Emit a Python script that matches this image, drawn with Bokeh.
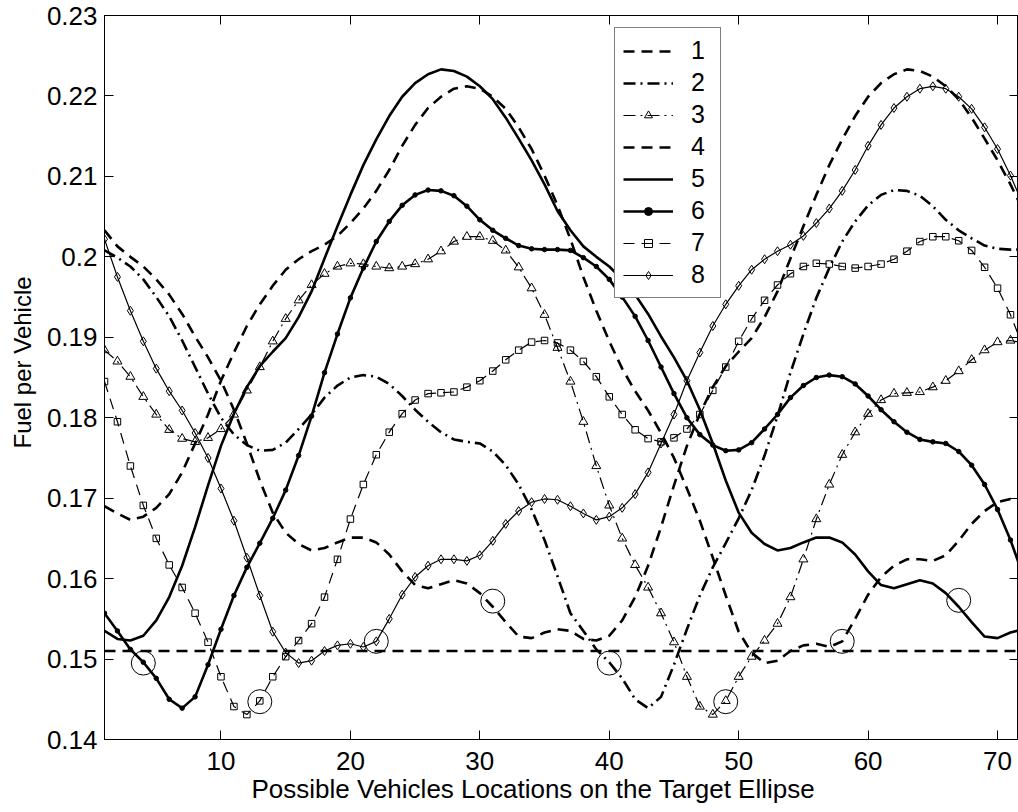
from bokeh.plotting import figure
from bokeh.models import FixedTicker, LinearAxis, Range1d, Legend, LegendItem, Span, Title
from bokeh.embed import file_html
from bokeh.resources import INLINE

# ---------------- data ----------------
x_positions = list(range(1, 73))

s1 = [0.2033, 0.2013, 0.2000, 0.1988, 0.1972, 0.1953, 0.1929, 0.1901, 0.1875, 0.1846, 0.1810, 0.1768,
      0.1722, 0.1682, 0.1657, 0.1643, 0.1635, 0.1638, 0.1645, 0.1651, 0.1651, 0.1645, 0.1630, 0.1609,
      0.1592, 0.1588, 0.1593, 0.1598, 0.1594, 0.1582, 0.1565, 0.1546, 0.1528, 0.1526, 0.1533, 0.1537,
      0.1535, 0.1525, 0.1523, 0.1529, 0.1548, 0.1577, 0.1616, 0.1664, 0.1716, 0.1765, 0.1805, 0.1838,
      0.1864, 0.1882, 0.1899, 0.1925, 0.1957, 0.1998, 0.2038, 0.2077, 0.2114, 0.2146, 0.2175, 0.2199,
      0.2216, 0.2227, 0.2233, 0.2231, 0.2224, 0.2212, 0.2196, 0.2173, 0.2147, 0.2120, 0.2090, 0.2057]

s2 = [0.2008, 0.1999, 0.1988, 0.1972, 0.1950, 0.1926, 0.1896, 0.1863, 0.1830, 0.1800, 0.1779, 0.1766,
      0.1759, 0.1760, 0.1769, 0.1786, 0.1804, 0.1825, 0.1840, 0.1850, 0.1853, 0.1851, 0.1842, 0.1827,
      0.1810, 0.1795, 0.1782, 0.1773, 0.1770, 0.1768, 0.1758, 0.1741, 0.1717, 0.1686, 0.1648, 0.1603,
      0.1557, 0.1535, 0.1512, 0.1496, 0.1476, 0.1450, 0.1439, 0.1453, 0.1493, 0.1537, 0.1579, 0.1614,
      0.1644, 0.1675, 0.1710, 0.1753, 0.1802, 0.1856, 0.1904, 0.1949, 0.1986, 0.2019, 0.2044, 0.2064,
      0.2077, 0.2083, 0.2082, 0.2076, 0.2063, 0.2046, 0.2033, 0.2023, 0.2014, 0.2010, 0.2009, 0.2009]

s3 = [0.1884, 0.1870, 0.1851, 0.1826, 0.1804, 0.1785, 0.1774, 0.1770, 0.1775, 0.1786, 0.1804, 0.1834,
      0.1863, 0.1895, 0.1923, 0.1946, 0.1965, 0.1979, 0.1988, 0.1992, 0.1991, 0.1988, 0.1986, 0.1988,
      0.1991, 0.1997, 0.2007, 0.2019, 0.2025, 0.2025, 0.2020, 0.2008, 0.1987, 0.1961, 0.1928, 0.1887,
      0.1845, 0.1795, 0.1740, 0.1691, 0.1650, 0.1617, 0.1589, 0.1557, 0.1521, 0.1478, 0.1441, 0.1431,
      0.1448, 0.1478, 0.1503, 0.1523, 0.1544, 0.1577, 0.1624, 0.1674, 0.1717, 0.1754, 0.1782, 0.1805,
      0.1822, 0.1830, 0.1831, 0.1832, 0.1838, 0.1846, 0.1858, 0.1872, 0.1884, 0.1894, 0.1896, 0.1893]

s4 = [0.1690, 0.1681, 0.1673, 0.1677, 0.1688, 0.1705, 0.1732, 0.1768, 0.1804, 0.1846, 0.1881, 0.1914,
      0.1941, 0.1964, 0.1984, 0.1997, 0.2007, 0.2015, 0.2026, 0.2042, 0.2060, 0.2082, 0.2108, 0.2138,
      0.2164, 0.2185, 0.2199, 0.2209, 0.2212, 0.2209, 0.2199, 0.2184, 0.2161, 0.2134, 0.2101, 0.2064,
      0.2022, 0.1975, 0.1933, 0.1895, 0.1861, 0.1833, 0.1809, 0.1781, 0.1750, 0.1712, 0.1672, 0.1626,
      0.1579, 0.1534, 0.1508, 0.1495, 0.1498, 0.1510, 0.1517, 0.1519, 0.1515, 0.1522, 0.1550, 0.1580,
      0.1602, 0.1616, 0.1624, 0.1624, 0.1622, 0.1629, 0.1647, 0.1668, 0.1684, 0.1695, 0.1699, 0.1698]

s5 = [0.1535, 0.1525, 0.1523, 0.1529, 0.1548, 0.1577, 0.1616, 0.1664, 0.1716, 0.1765, 0.1805, 0.1838,
      0.1864, 0.1882, 0.1899, 0.1925, 0.1957, 0.1998, 0.2038, 0.2077, 0.2114, 0.2146, 0.2175, 0.2199,
      0.2216, 0.2227, 0.2233, 0.2231, 0.2224, 0.2212, 0.2196, 0.2173, 0.2147, 0.2120, 0.2090, 0.2057,
      0.2033, 0.2013, 0.2000, 0.1988, 0.1972, 0.1953, 0.1929, 0.1901, 0.1875, 0.1846, 0.1810, 0.1768,
      0.1722, 0.1682, 0.1657, 0.1643, 0.1635, 0.1638, 0.1645, 0.1651, 0.1651, 0.1645, 0.1630, 0.1609,
      0.1592, 0.1588, 0.1593, 0.1598, 0.1594, 0.1582, 0.1565, 0.1546, 0.1528, 0.1526, 0.1533, 0.1537]

s6 = [0.1557, 0.1535, 0.1512, 0.1496, 0.1476, 0.1450, 0.1439, 0.1453, 0.1493, 0.1537, 0.1579, 0.1614,
      0.1644, 0.1675, 0.1710, 0.1753, 0.1802, 0.1856, 0.1904, 0.1949, 0.1986, 0.2019, 0.2044, 0.2064,
      0.2077, 0.2083, 0.2082, 0.2076, 0.2063, 0.2046, 0.2033, 0.2023, 0.2014, 0.2010, 0.2009, 0.2009,
      0.2008, 0.1999, 0.1988, 0.1972, 0.1950, 0.1926, 0.1896, 0.1863, 0.1830, 0.1800, 0.1779, 0.1766,
      0.1759, 0.1760, 0.1769, 0.1786, 0.1804, 0.1825, 0.1840, 0.1850, 0.1853, 0.1851, 0.1842, 0.1827,
      0.1810, 0.1795, 0.1782, 0.1773, 0.1770, 0.1768, 0.1758, 0.1741, 0.1717, 0.1686, 0.1648, 0.1603]

s7 = [0.1845, 0.1795, 0.1740, 0.1691, 0.1650, 0.1617, 0.1589, 0.1557, 0.1521, 0.1478, 0.1441, 0.1431,
      0.1448, 0.1478, 0.1503, 0.1523, 0.1544, 0.1577, 0.1624, 0.1674, 0.1717, 0.1754, 0.1782, 0.1805,
      0.1822, 0.1830, 0.1831, 0.1832, 0.1838, 0.1846, 0.1858, 0.1872, 0.1884, 0.1894, 0.1896, 0.1893,
      0.1884, 0.1870, 0.1851, 0.1826, 0.1804, 0.1785, 0.1774, 0.1770, 0.1775, 0.1786, 0.1804, 0.1834,
      0.1863, 0.1895, 0.1923, 0.1946, 0.1965, 0.1979, 0.1988, 0.1992, 0.1991, 0.1988, 0.1986, 0.1988,
      0.1991, 0.1997, 0.2007, 0.2019, 0.2025, 0.2025, 0.2020, 0.2008, 0.1987, 0.1961, 0.1928, 0.1887]

s8 = [0.2022, 0.1975, 0.1933, 0.1895, 0.1861, 0.1833, 0.1809, 0.1781, 0.1750, 0.1712, 0.1672, 0.1626,
      0.1579, 0.1534, 0.1508, 0.1495, 0.1498, 0.1510, 0.1517, 0.1519, 0.1515, 0.1522, 0.1550, 0.1580,
      0.1602, 0.1616, 0.1624, 0.1624, 0.1622, 0.1629, 0.1647, 0.1668, 0.1684, 0.1695, 0.1699, 0.1698,
      0.1690, 0.1681, 0.1673, 0.1677, 0.1688, 0.1705, 0.1732, 0.1768, 0.1804, 0.1846, 0.1881, 0.1914,
      0.1941, 0.1964, 0.1984, 0.1997, 0.2007, 0.2015, 0.2026, 0.2042, 0.2060, 0.2082, 0.2108, 0.2138,
      0.2164, 0.2185, 0.2199, 0.2209, 0.2212, 0.2209, 0.2199, 0.2184, 0.2161, 0.2134, 0.2101, 0.2064]

circle_x = [4, 13, 22, 31, 40, 49, 58, 67]
circle_y = [0.1495, 0.1447, 0.1522, 0.1572, 0.1495, 0.1447, 0.1522, 0.1573]

reference_level = 0.151

legend_labels = ["1", "2", "3", "4", "5", "6", "7", "8"]
xtick_values = [10, 20, 30, 40, 50, 60, 70]
xtick_labels = ["10", "20", "30", "40", "50", "60", "70"]
ytick_values = [0.14, 0.15, 0.16, 0.17, 0.18, 0.19, 0.2, 0.21, 0.22, 0.23]
ytick_labels = ["0.14", "0.15", "0.16", "0.17", "0.18", "0.19", "0.2", "0.21", "0.22", "0.23"]
x_label = "Possible Vehicles Locations on the Target Ellipse"
y_label = "Fuel per Vehicle"

# ---------------- styles ----------------
FONT = "Liberation Sans"
THICK = 2.6
THIN = 1.2
DASH = "11 7"
DASHDOT = "12 5 2 5"

p = figure(width=1018, height=812,
           x_range=Range1d(1, 71.62), y_range=Range1d(0.14, 0.23),
           output_backend="svg", toolbar_location=None,
           min_border_left=103, min_border_right=0, min_border_top=15, min_border_bottom=73)
p.background_fill_color = "white"
p.border_fill_color = "white"
p.outline_line_color = "black"
p.outline_line_width = 1
p.xgrid.grid_line_color = None
p.ygrid.grid_line_color = None


def style_axis(ax, ticks, labels, show_labels):
    ax.ticker = FixedTicker(ticks=ticks)
    ax.axis_line_color = "black"
    ax.axis_line_width = 1
    ax.major_tick_in = 9
    ax.major_tick_out = 0
    ax.major_tick_line_color = "black"
    ax.major_tick_line_width = 1
    ax.minor_tick_line_color = None
    if show_labels:
        ax.major_label_overrides = {t: l for t, l in zip(ticks, labels)}
        ax.major_label_text_font = FONT
        ax.major_label_text_font_size = "26px"
        ax.major_label_text_color = "black"
    else:
        ax.major_label_text_color = None
        ax.major_label_text_font_size = "0px"
        ax.major_label_standoff = 0


xa = p.xaxis[0]
ya = p.yaxis[0]
style_axis(xa, xtick_values, xtick_labels, True)
style_axis(ya, ytick_values, ytick_labels, True)
xa.major_label_standoff = 12
ya.major_label_standoff = 7

top_ax = LinearAxis()
style_axis(top_ax, xtick_values, xtick_labels, False)
right_ax = LinearAxis()
style_axis(right_ax, ytick_values, ytick_labels, False)
p.add_layout(top_ax, "above")
p.add_layout(right_ax, "right")

# axis titles as side-panel titles, so they can sit where the reference has them
x_title = Title(text=x_label, align="left", offset=147, standoff=0, vertical_align="middle",
                text_font=FONT, text_font_size="26px", text_font_style="normal",
                text_color="black")
y_title = Title(text=y_label, align="left", offset=291, standoff=14, vertical_align="middle",
                text_font=FONT, text_font_size="24px", text_font_style="normal",
                text_color="black")
p.add_layout(x_title, "below")
p.add_layout(y_title, "left")

# ---------------- series ----------------
series = [s1, s2, s3, s4, s5, s6, s7, s8]
line_styles = [
    dict(line_width=THICK, line_dash=DASH),
    dict(line_width=THICK, line_dash=DASHDOT),
    dict(line_width=THIN, line_dash=DASHDOT),
    dict(line_width=THICK, line_dash=DASH),
    dict(line_width=THICK, line_dash="solid"),
    dict(line_width=THICK, line_dash="solid"),
    dict(line_width=THIN, line_dash=DASH),
    dict(line_width=THIN, line_dash="solid"),
]
marker_styles = [
    None,
    None,
    dict(marker="triangle", size=9, fill_color=None, line_color="black", line_width=1),
    None,
    None,
    dict(marker="circle", size=4.5, fill_color="black", line_color="black", line_width=1),
    dict(marker="square", size=6.5, fill_color=None, line_color="black", line_width=1),
    dict(marker="diamond", size=9, fill_color=None, line_color="black", line_width=1),
]

items = []
for ys, lab, ls, ms in zip(series, legend_labels, line_styles, marker_styles):
    rends = [p.line(x_positions, ys, line_color="black", **ls)]
    if ms is not None:
        rends.append(p.scatter(x_positions, ys, **ms))
    items.append(LegendItem(label=lab, renderers=rends))

ref_line = Span(location=reference_level, dimension="width", line_color="black",
                line_width=THICK, line_dash=DASH)
p.add_layout(ref_line)

p.scatter(circle_x, circle_y, marker="circle", size=24, fill_color=None,
          line_color="black", line_width=1)

legend = Legend(items=items, location=(510, 441))
legend.label_text_font = FONT
legend.label_text_font_size = "25px"
legend.label_text_color = "black"
legend.glyph_width = 50
legend.glyph_height = 20
legend.label_standoff = 18
legend.label_width = 21
legend.padding = 8
legend.spacing = 3
legend.margin = 0
legend.border_line_color = "black"
legend.border_line_width = 1
legend.background_fill_color = "white"
legend.background_fill_alpha = 1
p.add_layout(legend)

open("out.html", "w").write(file_html(p, INLINE))
